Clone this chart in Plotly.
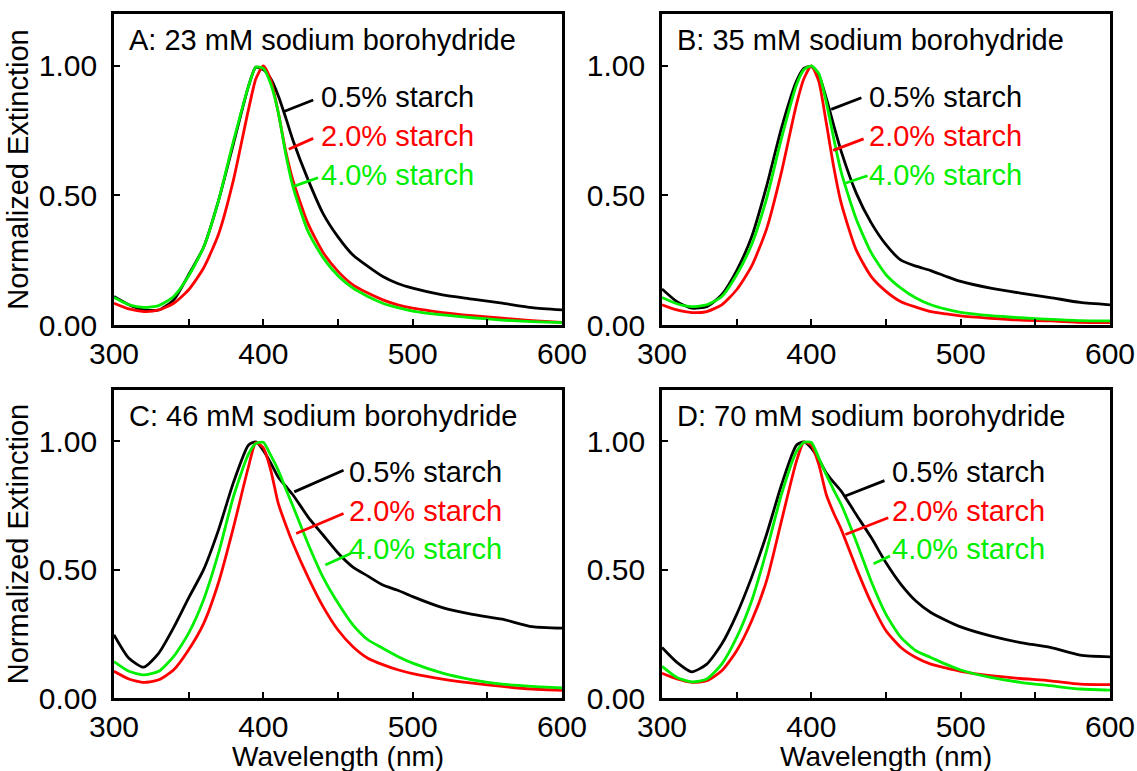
import plotly.graph_objects as go

# Wavelength grid (nm) at which each spectrum is sampled
wl = [300, 310, 320, 330, 340, 350, 360, 370, 380, 390, 395, 400, 405, 410, 415, 420,
      430, 440, 450, 460, 470, 480, 490, 500, 520, 540, 560, 580, 600]

# Panel A: 23 mM sodium borohydride
a_05 = [0.110, 0.078, 0.058, 0.058, 0.097, 0.194, 0.300, 0.480, 0.700, 0.920, 0.995, 0.985, 0.950, 0.885, 0.800,
        0.710, 0.560, 0.430, 0.340, 0.270, 0.226, 0.187, 0.160, 0.142, 0.116, 0.100, 0.084, 0.067, 0.058]
a_20 = [0.084, 0.062, 0.052, 0.058, 0.084, 0.136, 0.220, 0.350, 0.560, 0.830, 0.950, 1.000, 0.945, 0.820, 0.670,
        0.555, 0.390, 0.280, 0.207, 0.155, 0.123, 0.097, 0.078, 0.065, 0.048, 0.036, 0.026, 0.017, 0.010]
a_40 = [0.106, 0.078, 0.068, 0.075, 0.110, 0.190, 0.300, 0.480, 0.710, 0.920, 0.995, 0.990, 0.930, 0.820, 0.660,
        0.530, 0.360, 0.260, 0.190, 0.142, 0.110, 0.084, 0.067, 0.054, 0.039, 0.028, 0.019, 0.013, 0.009]

# Panel B: 35 mM sodium borohydride
b_05 = [0.139, 0.090, 0.065, 0.071, 0.117, 0.210, 0.340, 0.535, 0.760, 0.940, 0.990, 0.998, 0.965, 0.875, 0.770,
        0.670, 0.510, 0.395, 0.310, 0.250, 0.227, 0.210, 0.188, 0.168, 0.142, 0.123, 0.106, 0.087, 0.078]
b_20 = [0.078, 0.058, 0.048, 0.052, 0.078, 0.136, 0.227, 0.370, 0.590, 0.850, 0.950, 1.000, 0.940, 0.780, 0.610,
        0.470, 0.290, 0.188, 0.130, 0.090, 0.069, 0.052, 0.043, 0.035, 0.026, 0.019, 0.016, 0.010, 0.009]
b_40 = [0.106, 0.082, 0.071, 0.078, 0.110, 0.194, 0.310, 0.487, 0.720, 0.926, 0.985, 1.000, 0.970, 0.860, 0.720,
        0.590, 0.410, 0.280, 0.194, 0.142, 0.104, 0.078, 0.061, 0.049, 0.036, 0.028, 0.022, 0.017, 0.016]

# Panel C: 46 mM sodium borohydride
c_05 = [0.246, 0.155, 0.120, 0.175, 0.275, 0.390, 0.500, 0.655, 0.840, 0.985, 0.998, 0.965, 0.915, 0.860, 0.825,
        0.790, 0.705, 0.635, 0.565, 0.510, 0.475, 0.440, 0.420, 0.395, 0.352, 0.326, 0.307, 0.278, 0.272]
c_20 = [0.104, 0.074, 0.061, 0.071, 0.110, 0.188, 0.290, 0.450, 0.665, 0.900, 0.995, 0.975, 0.887, 0.758, 0.675,
        0.600, 0.470, 0.356, 0.265, 0.200, 0.155, 0.130, 0.110, 0.095, 0.074, 0.058, 0.045, 0.035, 0.030]
c_40 = [0.142, 0.104, 0.090, 0.104, 0.162, 0.253, 0.383, 0.565, 0.785, 0.950, 0.992, 0.996, 0.945, 0.887, 0.815,
        0.745, 0.600, 0.470, 0.370, 0.285, 0.227, 0.194, 0.162, 0.136, 0.097, 0.071, 0.054, 0.045, 0.039]

# Panel D: 70 mM sodium borohydride
d_05 = [0.197, 0.139, 0.102, 0.132, 0.210, 0.326, 0.470, 0.637, 0.830, 0.985, 0.998, 0.974, 0.930, 0.877, 0.840,
        0.806, 0.715, 0.626, 0.527, 0.443, 0.378, 0.333, 0.303, 0.277, 0.242, 0.216, 0.197, 0.167, 0.160]
d_20 = [0.096, 0.074, 0.061, 0.067, 0.106, 0.184, 0.300, 0.456, 0.690, 0.922, 0.997, 0.985, 0.910, 0.793, 0.720,
        0.657, 0.508, 0.372, 0.262, 0.197, 0.158, 0.132, 0.117, 0.104, 0.087, 0.076, 0.067, 0.054, 0.052]
d_40 = [0.123, 0.080, 0.063, 0.074, 0.132, 0.236, 0.378, 0.573, 0.793, 0.960, 0.996, 0.996, 0.935, 0.870, 0.810,
        0.754, 0.611, 0.456, 0.326, 0.236, 0.184, 0.158, 0.132, 0.109, 0.080, 0.061, 0.048, 0.035, 0.031]

panel_titles = ["A: 23 mM sodium borohydride", "B: 35 mM sodium borohydride",
                "C: 46 mM sodium borohydride", "D: 70 mM sodium borohydride"]
series_names = ["0.5% starch", "2.0% starch", "4.0% starch"]
panel_series = [[a_05, a_20, a_40], [b_05, b_20, b_40], [c_05, c_20, c_40], [d_05, d_20, d_40]]

x_ticks = [300, 350, 400, 450, 500, 550, 600]
x_tick_text = ["300", "", "400", "", "500", "", "600"]
y_ticks = [0.0, 0.5, 1.0]
x_title = "Wavelength (nm)"
y_title = "Normalized Extinction"

# ---- styling / layout constants ----
COLORS = ["#000000", "#ff0000", "#00ee00"]
FONT = "Liberation Sans, Arial, sans-serif"
FS = 29
TICK_FS = 30
XTITLE_FS = 28
LW = 2.8
W, H = 1137, 771
x_domains = [[114 / W, 562 / W], [662 / W, 1110 / W]]
y_domains = [[1 - 325 / H, 1 - 14 / H], [1 - 698 / H, 1 - 390 / H]]
x_title_y = 1 - 756 / H

# label anchor (left x, centre y of first label) and leader segments per panel
label_x = [437, 437.6, 456, 452.7]
label_y = [0.88, 0.73, 0.58]
leaders = [
    [((413.4, 0.823), (433.4, 0.868)), ((417, 0.678), (433.4, 0.72)), ((420.7, 0.536), (436.6, 0.568))],
    [((413.3, 0.832), (433.5, 0.877)), ((414.6, 0.674), (435, 0.718)), ((423, 0.548), (437.6, 0.576))],
    [((420.7, 0.803), (453.7, 0.887)), ((422, 0.641), (453.7, 0.719)), ((441.5, 0.518), (458.5, 0.563))],
    [((422.3, 0.786), (449, 0.847)), ((422.8, 0.637), (451.5, 0.702)), ((441.7, 0.523), (452.7, 0.553))],
]

fig = go.Figure()
annotations = []
shapes = []

for p in range(4):
    row, col = divmod(p, 2)
    idx = "" if p == 0 else str(p + 1)
    xref, yref = "x" + idx, "y" + idx

    for s in range(3):
        fig.add_trace(go.Scatter(
            x=wl, y=panel_series[p][s], mode="lines",
            line=dict(color=COLORS[s], width=LW, shape="spline", smoothing=0.6),
            xaxis=xref, yaxis=yref, showlegend=False, hoverinfo="skip"))
        annotations.append(dict(
            x=label_x[p], y=label_y[s], xref=xref, yref=yref, text=series_names[s],
            showarrow=False, xanchor="left", yanchor="middle",
            font=dict(family=FONT, size=FS, color=COLORS[s])))
        (x0, y0), (x1, y1) = leaders[p][s]
        shapes.append(dict(type="line", xref=xref, yref=yref, x0=x0, y0=y0, x1=x1, y1=y1,
                           line=dict(color=COLORS[s], width=LW)))

    annotations.append(dict(
        x=309, y=1.10, xref=xref, yref=yref, text=panel_titles[p], showarrow=False,
        xanchor="left", yanchor="middle", font=dict(family=FONT, size=FS, color="black")))

    axis_common = dict(showline=True, linecolor="black", linewidth=2.8, mirror=True,
                       showgrid=False, zeroline=False, ticks="inside", ticklen=6,
                       tickwidth=2, tickcolor="black", automargin=False,
                       tickfont=dict(family=FONT, size=TICK_FS, color="black"))
    xa = dict(axis_common, domain=x_domains[col], range=[300, 600],
              tickmode="array", tickvals=x_ticks, ticktext=x_tick_text,
              anchor=yref)
    ya = dict(axis_common, domain=y_domains[row], range=[0, 1.2],
              tickmode="array", tickvals=y_ticks, tickformat=".2f",
              anchor=xref, ticklabelstandoff=8)
    if row == 1:
        # x-axis title placed as a paper annotation under the bottom panels
        annotations.append(dict(
            x=sum(x_domains[col]) / 2, y=x_title_y, xref="paper", yref="paper",
            text=x_title, showarrow=False, xanchor="center", yanchor="middle",
            font=dict(family=FONT, size=XTITLE_FS, color="black")))
    if col == 0:
        ya["title"] = dict(text=y_title, font=dict(family=FONT, size=FS, color="black"),
                           standoff=2)
    fig.layout["xaxis" + idx] = xa
    fig.layout["yaxis" + idx] = ya

fig.update_layout(
    width=W, height=H, margin=dict(l=0, r=0, t=0, b=0, autoexpand=False),
    paper_bgcolor="white", plot_bgcolor="white",
    annotations=annotations, shapes=shapes,
    font=dict(family=FONT, size=FS, color="black"),
)

fig.write_html("out.html")
